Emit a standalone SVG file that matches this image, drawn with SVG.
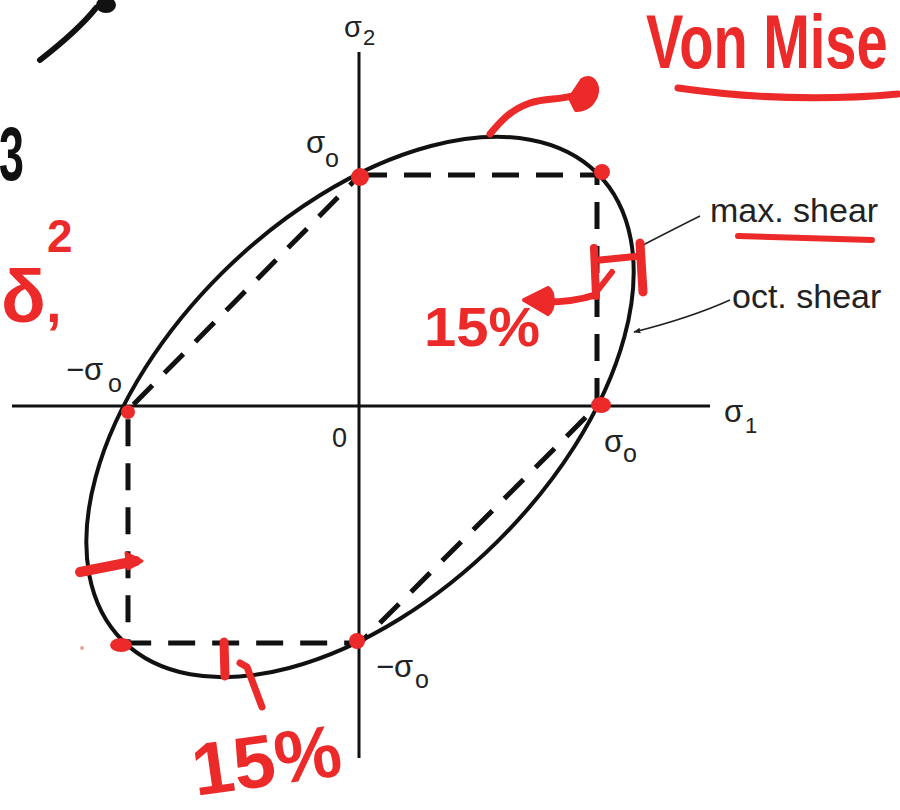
<svg xmlns="http://www.w3.org/2000/svg" width="900" height="810" viewBox="0 0 900 810">
<defs>
<style>
.ax{stroke:#111;stroke-width:3;fill:none}
.curve{stroke:#111;stroke-width:4;fill:none;vector-effect:non-scaling-stroke}
.dash{stroke:#111;stroke-width:5;fill:none;stroke-dasharray:27 17}
.lbl{font-family:"Liberation Sans","DejaVu Sans",Arial,sans-serif;fill:#222}
.lead{stroke:#222;stroke-width:1.5;fill:none}
.dot{fill:#ec2a2a}
.red{stroke:#ec2a2a;stroke-linecap:round;stroke-linejoin:round;fill:none}
.hand{font-family:"Liberation Sans","DejaVu Sans",Arial,sans-serif;font-weight:bold;fill:#ec2a2a}
</style>
<marker id="ah" viewBox="0 0 10 10" refX="9" refY="5" markerWidth="7" markerHeight="7" orient="auto" markerUnits="userSpaceOnUse">
<path d="M0,1 L10,5 L0,9 Z" fill="#222"/>
</marker>
</defs>
<rect width="900" height="810" fill="#fff"/>

<g id="axes">
<line class="ax" x1="12" y1="406" x2="710" y2="406"/>
<line class="ax" x1="359" y1="52" x2="359" y2="758"/>
</g>

<g id="tresca">
<path class="dash" d="M360,175 L597,175 L597,406 L360,643 L128,643 L128,410 Z"/>
</g>

<g id="vonmises">
<ellipse class="curve" cx="0" cy="0" rx="1.4142" ry="0.8165" transform="translate(360,407) scale(237,-234) rotate(45)"/>
</g>

<g id="labels" class="lbl">
<text x="344" y="37" font-size="29">σ<tspan x="363" y="45" font-size="22">2</tspan></text>
<text x="306" y="153" font-size="31">σ<tspan x="325" y="167" font-size="25">o</tspan></text>
<text x="604" y="452" font-size="31">σ<tspan x="623" y="462" font-size="25">o</tspan></text>
<text x="66" y="380" font-size="31">−σ<tspan x="108" y="392" font-size="25">o</tspan></text>
<text x="376" y="677" font-size="31">−σ<tspan x="415" y="688" font-size="25">o</tspan></text>
<text x="724" y="422" font-size="31">σ<tspan x="745" y="433" font-size="22">1</tspan></text>
<text x="332" y="447" font-size="27">0</text>
<text x="710" y="222" font-size="34">max. shear</text>
<text x="732" y="308" font-size="34">oct. shear</text>
</g>

<g id="connectors">
<path class="lead" d="M700,216 Q676,228 643,245"/>
<path class="lead" d="M730,300 Q690,318 634,332" marker-end="url(#ah)"/>
</g>

<g id="points">
<circle class="dot" cx="360" cy="177" r="9"/>
<circle class="dot" cx="602" cy="172" r="8"/>
<ellipse class="dot" cx="601" cy="405" rx="10" ry="8"/>
<circle class="dot" cx="128" cy="412" r="7"/>
<circle class="dot" cx="357" cy="641" r="8"/>
<ellipse class="dot" cx="121" cy="645" rx="11" ry="7"/>
</g>

<g id="annotations">
<path d="M40,60 C58,46 80,28 96,8" stroke="#111" stroke-width="6" fill="none" stroke-linecap="round"/>
<ellipse cx="106" cy="5" rx="10" ry="8" fill="#111"/>
<text x="-1" y="180" font-family="Liberation Sans, sans-serif" font-weight="bold" font-size="76" fill="#111" textLength="25" lengthAdjust="spacingAndGlyphs">3</text>

<text class="hand" x="0" y="0" font-size="56" transform="translate(646,68) scale(1,1.35)">Von Mise</text>
<path class="red" stroke-width="7" d="M678,88 Q790,104 898,94"/>
<path class="red" stroke-width="6" d="M738,236 L872,240"/>

<path class="red" stroke-width="7" d="M490,134 C500,122 510,110 530,103 C545,98 558,100 572,96"/>
<path d="M570,98 L582,80 C592,74 600,84 596,96 C592,106 584,110 576,110 Z" fill="#ec2a2a" stroke="#ec2a2a" stroke-width="4" stroke-linejoin="round"/>

<path class="red" stroke-width="8" d="M594,248 L596,296"/>
<path class="red" stroke-width="7" d="M600,260 L640,256"/>
<path class="red" stroke-width="9" d="M640,243 L643,292"/>
<path class="red" stroke-width="6" d="M612,272 L598,290"/>
<path class="red" stroke-width="7" d="M595,295 C580,300 560,302 545,302"/>
<path d="M524,300 L548,288 C554,292 555,308 548,314 Z" fill="#ec2a2a" stroke="#ec2a2a" stroke-width="4" stroke-linejoin="round"/>
<text class="hand" x="424" y="346" font-size="56" textLength="116" lengthAdjust="spacingAndGlyphs">15%</text>

<text class="hand" x="1" y="322" font-size="74">δ</text>
<text class="hand" x="46" y="322" font-size="56">,</text>
<text class="hand" x="47" y="252" font-size="46">2</text>

<path class="red" stroke-width="10" d="M80,572 L136,561"/>
<path d="M126,553 L142,561 L128,569 Z" fill="#ec2a2a" stroke="#ec2a2a" stroke-width="3" stroke-linejoin="round"/>
<circle cx="82" cy="648" r="2" fill="#f3a0a0"/>

<path class="red" stroke-width="9" d="M224,642 L225,676"/>
<path class="red" stroke-width="7" d="M240,663 L247,667 L262,707"/>
<text class="hand" x="192" y="786" font-size="74" textLength="150" lengthAdjust="spacingAndGlyphs" transform="rotate(-8 265 765)">15%</text>
</g>
</svg>
